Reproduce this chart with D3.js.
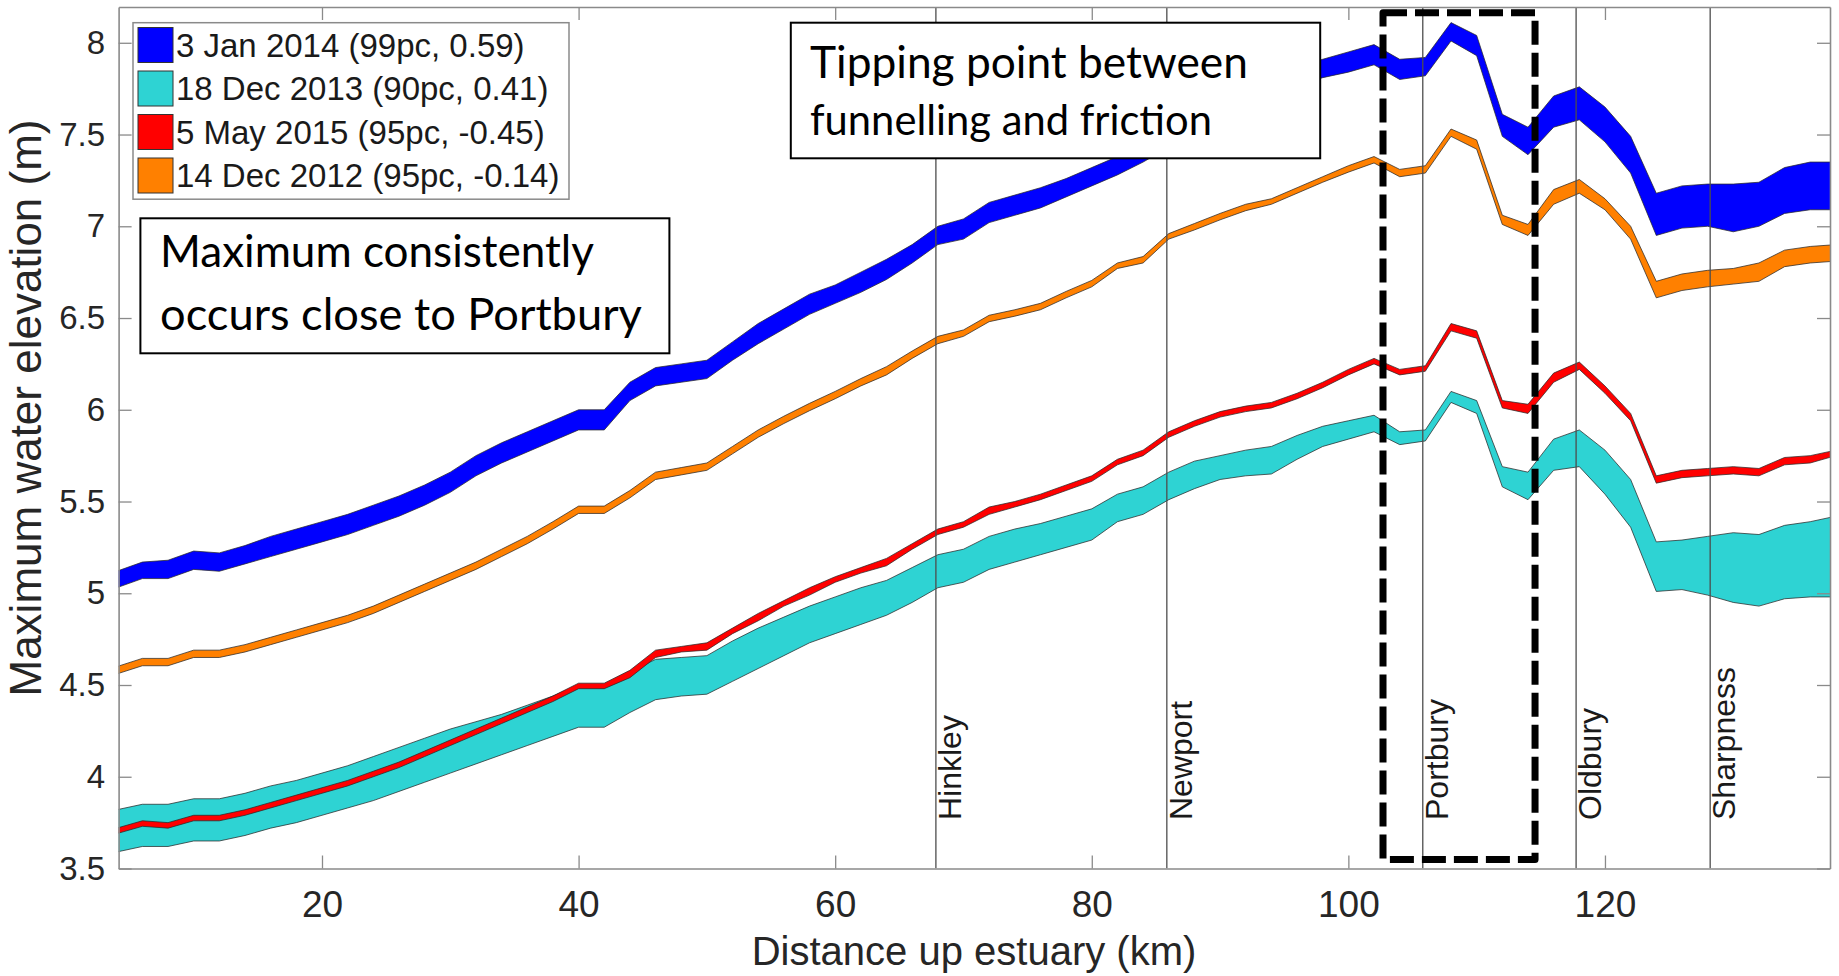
<!DOCTYPE html>
<html>
<head>
<meta charset="utf-8">
<script src="https://cdn.jsdelivr.net/npm/d3@7"></script>
<style>
  body { margin: 0; background: #fff; }
  svg { display: block; }
</style>
</head>
<body>
<div id="chart"></div>
<script>
// distance up estuary (km) for every sample
var distanceKm = [
  4, 6, 8, 10, 12, 14, 16, 18, 20, 22,
  24, 26, 28, 30, 32, 34, 36, 38, 40, 42,
  44, 46, 48, 50, 52, 54, 56, 58, 60, 62,
  64, 66, 68, 70, 72, 74, 76, 78, 80, 82,
  84, 86, 88, 90, 92, 94, 96, 98, 100, 102,
  104, 106, 108, 110, 112, 114, 116, 118, 120, 122,
  124, 126, 128, 130, 132, 134, 136, 138
];

// 3 Jan 2014 - upper and lower edge of band (m)
var jan2014Hi = [
  5.12, 5.17, 5.18, 5.23, 5.22, 5.26, 5.31, 5.35, 5.39, 5.43,
  5.48, 5.53, 5.59, 5.66, 5.75, 5.82, 5.88, 5.94, 6.00, 6.00,
  6.15, 6.23, 6.25, 6.27, 6.37, 6.47, 6.55, 6.63, 6.68, 6.75,
  6.82, 6.90, 7.00, 7.04, 7.13, 7.17, 7.21, 7.26, 7.32, 7.38,
  7.45, 7.53, 7.61, 7.69, 7.76, 7.82, 7.87, 7.91, 7.95, 7.99,
  7.91, 7.92, 8.11, 8.04, 7.61, 7.54, 7.71, 7.76, 7.65, 7.49,
  7.18, 7.22, 7.23, 7.23, 7.24, 7.32, 7.35, 7.35
];
var jan2014Lo = [
  5.03, 5.08, 5.08, 5.13, 5.12, 5.16, 5.20, 5.24, 5.28, 5.32,
  5.37, 5.42, 5.48, 5.55, 5.64, 5.71, 5.77, 5.83, 5.89, 5.89,
  6.05, 6.13, 6.15, 6.17, 6.27, 6.36, 6.44, 6.52, 6.58, 6.64,
  6.71, 6.80, 6.90, 6.93, 7.02, 7.06, 7.10, 7.16, 7.22, 7.28,
  7.35, 7.43, 7.51, 7.59, 7.66, 7.72, 7.77, 7.81, 7.84, 7.88,
  7.80, 7.82, 8.01, 7.93, 7.49, 7.39, 7.54, 7.58, 7.46, 7.29,
  6.95, 6.99, 7.00, 6.97, 7.00, 7.07, 7.09, 7.09
];

// 18 Dec 2013
var dec2013Hi = [
  3.82, 3.85, 3.85, 3.88, 3.88, 3.91, 3.95, 3.98, 4.02, 4.06,
  4.11, 4.16, 4.21, 4.26, 4.30, 4.34, 4.39, 4.44, 4.50, 4.50,
  4.57, 4.64, 4.65, 4.66, 4.74, 4.81, 4.87, 4.93, 4.98, 5.03,
  5.07, 5.14, 5.21, 5.24, 5.31, 5.35, 5.38, 5.42, 5.46, 5.54,
  5.58, 5.66, 5.72, 5.75, 5.78, 5.80, 5.86, 5.91, 5.94, 5.97,
  5.88, 5.89, 6.10, 6.05, 5.69, 5.66, 5.84, 5.89, 5.78, 5.62,
  5.28, 5.29, 5.31, 5.33, 5.32, 5.37, 5.39, 5.42
];
var dec2013Lo = [
  3.59, 3.62, 3.62, 3.65, 3.65, 3.68, 3.72, 3.75, 3.79, 3.83,
  3.87, 3.92, 3.97, 4.02, 4.07, 4.12, 4.17, 4.22, 4.27, 4.27,
  4.35, 4.42, 4.44, 4.45, 4.52, 4.59, 4.66, 4.73, 4.78, 4.83,
  4.88, 4.95, 5.03, 5.06, 5.13, 5.17, 5.21, 5.25, 5.29, 5.39,
  5.43, 5.51, 5.57, 5.62, 5.64, 5.65, 5.73, 5.80, 5.84, 5.88,
  5.81, 5.83, 6.04, 5.98, 5.58, 5.51, 5.67, 5.69, 5.54, 5.36,
  5.01, 5.02, 4.99, 4.95, 4.93, 4.97, 4.98, 4.98
];

// 5 May 2015
var may2015Hi = [
  3.72, 3.76, 3.75, 3.79, 3.79, 3.82, 3.86, 3.90, 3.94, 3.98,
  4.03, 4.08, 4.14, 4.20, 4.26, 4.32, 4.38, 4.44, 4.51, 4.51,
  4.58, 4.69, 4.71, 4.73, 4.81, 4.89, 4.96, 5.03, 5.09, 5.14,
  5.19, 5.27, 5.35, 5.39, 5.47, 5.50, 5.54, 5.59, 5.64, 5.73,
  5.78, 5.88, 5.94, 5.99, 6.02, 6.04, 6.09, 6.15, 6.22, 6.28,
  6.22, 6.24, 6.47, 6.43, 6.05, 6.03, 6.20, 6.26, 6.13, 5.98,
  5.64, 5.67, 5.68, 5.69, 5.68, 5.74, 5.75, 5.78
];
var may2015Lo = [
  3.69, 3.73, 3.72, 3.76, 3.76, 3.79, 3.83, 3.87, 3.91, 3.95,
  4.00, 4.05, 4.11, 4.17, 4.23, 4.29, 4.35, 4.41, 4.48, 4.48,
  4.54, 4.65, 4.68, 4.69, 4.78, 4.85, 4.93, 4.99, 5.06, 5.11,
  5.15, 5.24, 5.32, 5.36, 5.43, 5.47, 5.51, 5.56, 5.61, 5.70,
  5.75, 5.85, 5.91, 5.96, 5.99, 6.01, 6.06, 6.12, 6.19, 6.25,
  6.19, 6.21, 6.43, 6.39, 6.01, 5.98, 6.15, 6.22, 6.09, 5.94,
  5.60, 5.63, 5.64, 5.65, 5.64, 5.70, 5.71, 5.75
];

// 14 Dec 2012
var dec2012Hi = [
  4.60, 4.645, 4.645, 4.69, 4.69, 4.72, 4.76, 4.80, 4.84, 4.88,
  4.93, 4.99, 5.05, 5.11, 5.17, 5.24, 5.31, 5.39, 5.475, 5.475,
  5.56, 5.66, 5.685, 5.71, 5.80, 5.89, 5.965, 6.035, 6.10, 6.17,
  6.235, 6.32, 6.40, 6.435, 6.515, 6.545, 6.58, 6.645, 6.705, 6.80,
  6.835, 6.96, 7.015, 7.07, 7.12, 7.15, 7.21, 7.27, 7.33, 7.38,
  7.31, 7.33, 7.53, 7.47, 7.06, 7.01, 7.20, 7.255, 7.15, 7.00,
  6.70, 6.74, 6.76, 6.77, 6.80, 6.87, 6.89, 6.90
];
var dec2012Lo = [
  4.56, 4.605, 4.605, 4.65, 4.65, 4.68, 4.72, 4.76, 4.80, 4.84,
  4.89, 4.95, 5.01, 5.07, 5.13, 5.20, 5.27, 5.35, 5.435, 5.435,
  5.52, 5.62, 5.645, 5.67, 5.76, 5.85, 5.925, 5.995, 6.06, 6.13,
  6.19, 6.28, 6.36, 6.40, 6.48, 6.51, 6.545, 6.61, 6.67, 6.77,
  6.80, 6.93, 6.98, 7.035, 7.085, 7.12, 7.18, 7.24, 7.295, 7.345,
  7.27, 7.29, 7.49, 7.42, 7.01, 6.95, 7.12, 7.18, 7.09, 6.93,
  6.61, 6.65, 6.67, 6.685, 6.70, 6.78, 6.80, 6.81
];

var seriesNames = [
  "3 Jan 2014 (99pc, 0.59)",
  "18 Dec 2013 (90pc, 0.41)",
  "5 May 2015 (95pc, -0.45)",
  "14 Dec 2012 (95pc, -0.14)"
];
var seriesColors = ["#0000ff", "#2ed3d3", "#ff0000", "#ff8000"];

// locations along the estuary
var siteNames = ["Hinkley", "Newport", "Portbury", "Oldbury", "Sharpness"];
var siteKm = [67.85, 85.85, 105.8, 117.75, 128.2];

var xTicks = [20, 40, 60, 80, 100, 120];
var yTicks = [3.5, 4, 4.5, 5, 5.5, 6, 6.5, 7, 7.5, 8];

// dashed "tipping point" window (km, m)
var windowKm = [102.7, 114.55];
var windowM = [3.549, 8.164];

function init(){

  var w = 1839;
  var h = 976;
  var left = 118.6, right = 1830, top = 7, bottom = 868.5;
  var axisColor = "#8a8a8a";
  var sans = "'Liberation Sans', Arial, Helvetica, sans-serif";

  var xScale = d3.scaleLinear()
                  .domain([4.147, 137.54])
                  .range([left, right]);
  var yScale = d3.scaleLinear()
                  .domain([3.5, 8.195])
                  .range([bottom, top]);

  var svg = d3.select("#chart")
    .append("svg")
    .attr("width", w)
    .attr("height", h);

  svg.append("defs").append("clipPath")
    .attr("id", "plotclip")
    .append("rect")
    .attr("x", left)
    .attr("y", top)
    .attr("width", right - left)
    .attr("height", bottom - top);

  // build band rows
  var bands = [
    [jan2014Hi, jan2014Lo],
    [dec2013Hi, dec2013Lo],
    [may2015Hi, may2015Lo],
    [dec2012Hi, dec2012Lo]
  ].map(function(pair, s) {
    return {
      name: seriesNames[s],
      color: seriesColors[s],
      rows: distanceKm.map(function(k, i) {
        return { km: k, hi: pair[0][i], lo: pair[1][i] };
      })
    };
  });

  var area = d3.area()
                .x(function(d) { return xScale(d.km); })
                .y0(function(d) { return yScale(d.lo); })
                .y1(function(d) { return yScale(d.hi); });

  var plot = svg.append("g").attr("clip-path", "url(#plotclip)");

  plot.selectAll("path.band")
    .data(bands)
    .enter()
    .append("path")
    .attr("class", "band")
    .attr("d", function(d) { return area(d.rows); })
    .attr("fill", function(d) { return d.color; })
    .attr("stroke", "#2a2a2a")
    .attr("stroke-opacity", 0.75)
    .attr("stroke-width", 1)
    .attr("stroke-linejoin", "round");

  // site lines + labels
  plot.selectAll("line.site")
    .data(siteKm)
    .enter()
    .append("line")
    .attr("class", "site")
    .attr("x1", function(d) { return xScale(d); })
    .attr("x2", function(d) { return xScale(d); })
    .attr("y1", top)
    .attr("y2", bottom)
    .attr("stroke", "#4d4d4d")
    .attr("stroke-width", 1.3);

  svg.selectAll("text.site")
    .data(siteNames)
    .enter()
    .append("text")
    .attr("class", "site")
    .attr("transform", function(d, i) {
      return "translate(" + (xScale(siteKm[i]) + 25) + ",820) rotate(-90)";
    })
    .attr("font-family", sans)
    .attr("font-size", 32)
    .attr("fill", "#1a1a1a")
    .text(function(d) { return d; });

  // axes, ticks pointing inwards on all four sides
  var xAxis = d3.axisBottom(xScale)
                .tickValues(xTicks)
                .tickSizeInner(-13)
                .tickSizeOuter(0)
                .tickPadding(22);
  var xAxisTop = d3.axisTop(xScale)
                .tickValues(xTicks)
                .tickSizeInner(-13)
                .tickSizeOuter(0)
                .tickFormat("");
  var yAxis = d3.axisLeft(yScale)
                .tickValues(yTicks)
                .tickSizeInner(-13)
                .tickSizeOuter(0)
                .tickPadding(13.6)
                .tickFormat(d3.format(""));
  var yAxisRight = d3.axisRight(yScale)
                .tickValues(yTicks)
                .tickSizeInner(-13)
                .tickSizeOuter(0)
                .tickFormat("");

  var gx = svg.append("g")
      .attr("transform", "translate(0," + bottom + ")")
      .call(xAxis);
  var gxt = svg.append("g")
      .attr("transform", "translate(0," + top + ")")
      .call(xAxisTop);
  var gy = svg.append("g")
      .attr("transform", "translate(" + left + ",0)")
      .call(yAxis);
  var gyr = svg.append("g")
      .attr("transform", "translate(" + right + ",0)")
      .call(yAxisRight);

  [gx, gxt, gy, gyr].forEach(function(g) {
    g.select(".domain").attr("stroke", axisColor).attr("stroke-width", 1.6);
    g.selectAll(".tick line").attr("stroke", axisColor).attr("stroke-width", 1.3);
    g.selectAll(".tick text").attr("fill", "#262626").attr("font-family", sans);
  });
  gx.selectAll(".tick text").attr("font-size", 37);
  gy.selectAll(".tick text").attr("font-size", 33);

  // axis titles
  svg.append("text")
    .attr("x", 974)
    .attr("y", 965)
    .attr("text-anchor", "middle")
    .attr("font-family", sans)
    .attr("font-size", 40)
    .attr("fill", "#262626")
    .text("Distance up estuary (km)");

  svg.append("text")
    .attr("transform", "translate(41,408) rotate(-90)")
    .attr("text-anchor", "middle")
    .attr("font-family", sans)
    .attr("font-size", 44)
    .attr("fill", "#262626")
    .text("Maximum water elevation (m)");

  // dashed window round Portbury
  svg.append("rect")
    .attr("x", xScale(windowKm[0]))
    .attr("y", yScale(windowM[1]))
    .attr("width", xScale(windowKm[1]) - xScale(windowKm[0]))
    .attr("height", yScale(windowM[0]) - yScale(windowM[1]))
    .attr("fill", "none")
    .attr("stroke", "#000")
    .attr("stroke-width", 7)
    .attr("stroke-dasharray", "24,8")
    .attr("stroke-linejoin", "round");

  // legend
  var legend = svg.append("g");
  legend.append("rect")
    .attr("x", 133)
    .attr("y", 22.7)
    .attr("width", 436)
    .attr("height", 176.5)
    .attr("fill", "#fff")
    .attr("stroke", "#8a8a8a")
    .attr("stroke-width", 1.5);

  var rows = legend.selectAll("g.item")
    .data(bands)
    .enter()
    .append("g")
    .attr("class", "item")
    .attr("transform", function(d, i) { return "translate(0," + (45 + i * 43.5) + ")"; });

  rows.append("rect")
    .attr("x", 138)
    .attr("y", -17.5)
    .attr("width", 35)
    .attr("height", 35)
    .attr("fill", function(d) { return d.color; })
    .attr("stroke", "#333")
    .attr("stroke-width", 1);

  rows.append("text")
    .attr("x", 176)
    .attr("dy", "0.36em")
    .attr("font-family", sans)
    .attr("font-size", 33)
    .attr("fill", "#1a1a1a")
    .text(function(d) { return d.name; });

  // text boxes
  var notes = [
    { box: [140.4, 218.3, 529, 135], lines: ["Maximum consistently", "occurs close to Portbury"],
      base: [266.7, 330], widths: [434, 482], x: 160 },
    { box: [790.8, 22.7, 529.4, 135.6], lines: ["Tipping point between", "funnelling and friction"],
      base: [78.3, 135], widths: [438, 402], x: 810 }
  ];

  notes.forEach(function(n) {
    svg.append("rect")
      .attr("x", n.box[0])
      .attr("y", n.box[1])
      .attr("width", n.box[2])
      .attr("height", n.box[3])
      .attr("fill", "#fff")
      .attr("stroke", "#000")
      .attr("stroke-width", 2);
    n.lines.forEach(function(line, i) {
      var t = svg.append("text")
        .attr("x", n.x)
        .attr("y", n.base[i])
        .attr("font-family", "'Lato', 'Open Sans', sans-serif")
        .attr("font-size", 41)
        .attr("fill", "#000")
        .text(line);
      var len = t.node().getComputedTextLength();
      if (len > 0) t.attr("font-size", 41 * n.widths[i] / len);
    });
  });
}

window.onload = init;
</script>
</body>
</html>
